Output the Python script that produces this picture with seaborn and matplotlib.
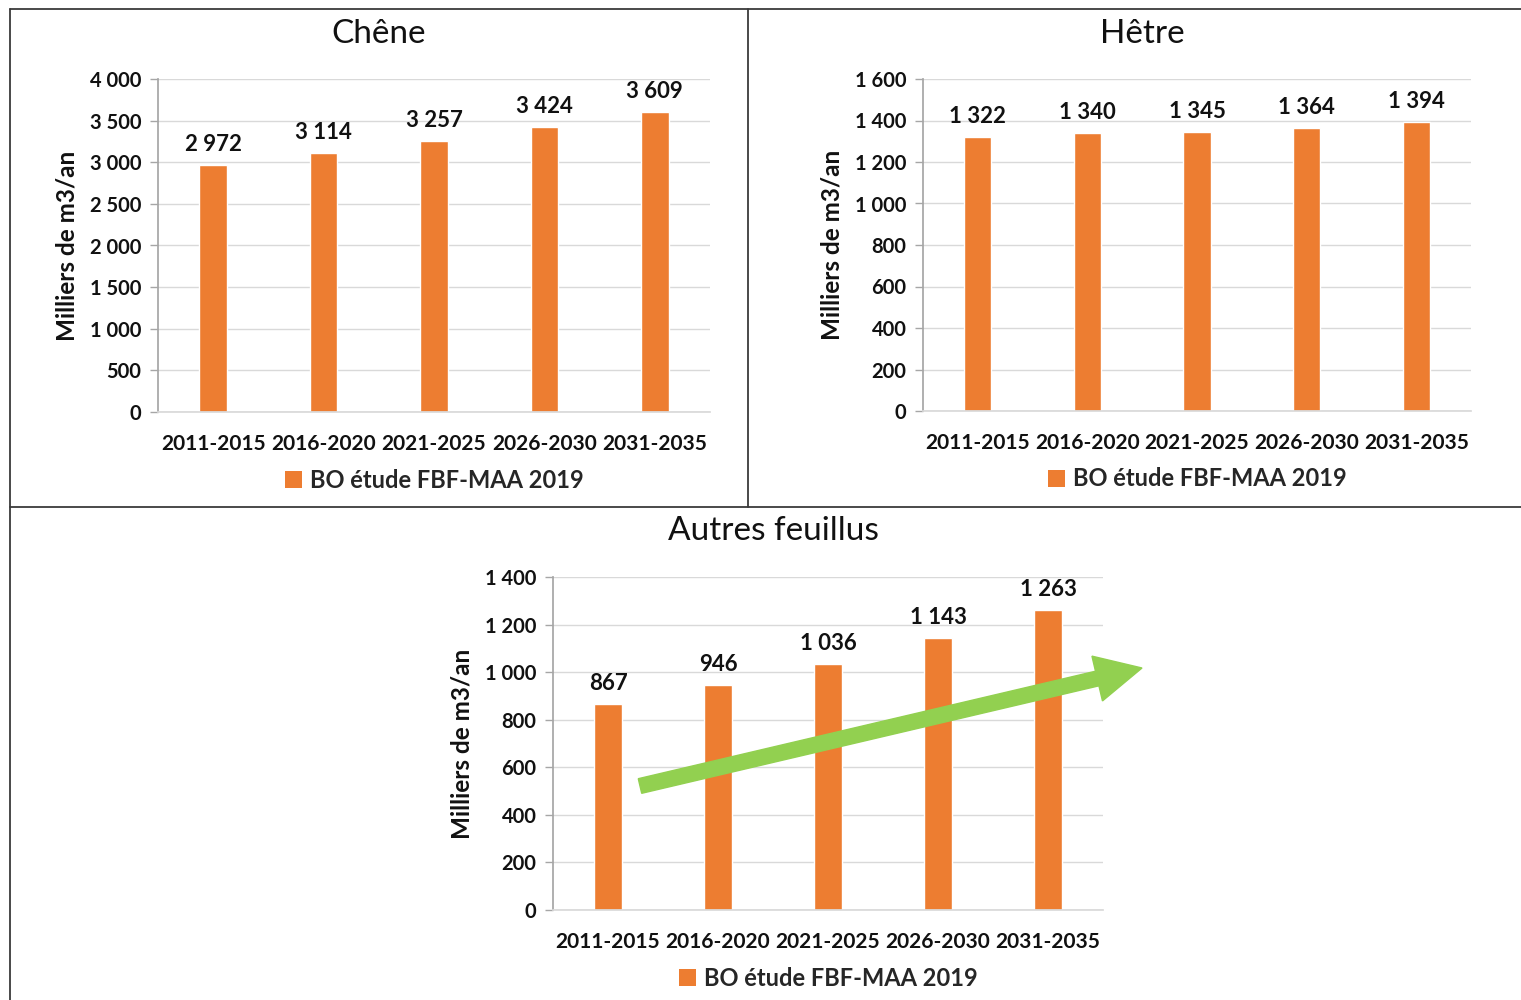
import numpy as np
import pandas as pd
import matplotlib
matplotlib.use("Agg")
import matplotlib.pyplot as plt
import seaborn as sns
from matplotlib.patches import Patch, FancyArrow
from matplotlib.lines import Line2D

# ---- data ----
periods = ["2011-2015", "2016-2020", "2021-2025", "2026-2030", "2031-2035"]
chene = [2972, 3114, 3257, 3424, 3609]
hetre = [1322, 1340, 1345, 1364, 1394]
autres = [867, 946, 1036, 1143, 1263]
titles = ["Chêne", "Hêtre", "Autres feuillus"]
chene_ticks = [0, 500, 1000, 1500, 2000, 2500, 3000, 3500, 4000]
hetre_ticks = [0, 200, 400, 600, 800, 1000, 1200, 1400, 1600]
autres_ticks = [0, 200, 400, 600, 800, 1000, 1200, 1400]
series_name = "BO étude FBF-MAA 2019"
ylabel = "Milliers de m3/an"

sns.set_theme(style="white")
plt.rcParams['font.family'] = ['Lato', 'DejaVu Sans']

ORANGE = "#ED7D31"
GRID = "#D9D9D9"
TXT = "#111111"

fig = plt.figure(figsize=(15.21, 10), dpi=100)
fig.patch.set_facecolor("white")


def fmt(v):
    return f"{v:,}".replace(",", " ")


def draw(rect, values, ticks, title, title_xy):
    ax = fig.add_axes(rect)
    df = pd.DataFrame({"period": periods, "value": values})
    sns.barplot(data=df, x="period", y="value", color=ORANGE, width=0.25,
                saturation=1, ax=ax)
    ax.set_ylim(ticks[0], ticks[-1])
    ax.set_xlim(-0.5, len(periods) - 0.5)
    ax.set_yticks(ticks)
    ax.set_yticklabels([fmt(t) for t in ticks], fontsize=14.5, fontweight="bold", color=TXT)
    ax.set_xticks(range(len(periods)))
    ax.set_xticklabels(periods, fontsize=15, fontweight="bold", color=TXT)
    ax.tick_params(axis="x", length=0, pad=16)
    ax.tick_params(axis="y", length=6, width=1, color="#A6A6A6", pad=6, left=True, direction="out")
    ax.set_xlabel("")
    ax.set_ylabel(ylabel, fontsize=17.5, fontweight="bold", color=TXT, labelpad=8)
    ax.grid(axis="y", color=GRID, linewidth=1)
    ax.set_axisbelow(True)
    for s in ["top", "right"]:
        ax.spines[s].set_visible(False)
    ax.spines["left"].set_color("#A6A6A6")
    ax.spines["bottom"].set_color(GRID)
    ax.bar_label(ax.containers[0], labels=[fmt(v) for v in values], padding=7,
                 fontsize=16, fontweight="bold", color=TXT)
    ax.legend(handles=[Patch(facecolor=ORANGE, edgecolor="none")], labels=[series_name],
              loc="upper center", bbox_to_anchor=(0.5, -0.106), frameon=False,
              handlelength=0.75, handleheight=0.75, handletextpad=0.3,
              prop={"size": 17, "weight": "bold"})
    fig.text(title_xy[0] / 1521, 1 - title_xy[1] / 1000, title, ha="center", va="center",
             fontsize=24, color=TXT)
    return ax


draw([158 / 1521, 1 - 412 / 1000, 552 / 1521, 333 / 1000], chene, chene_ticks, titles[0], (379, 34))
draw([923 / 1521, 1 - 411 / 1000, 548 / 1521, 332 / 1000], hetre, hetre_ticks, titles[1], (1142, 34))
draw([553 / 1521, 1 - 910 / 1000, 550 / 1521, 333 / 1000], autres, autres_ticks, titles[2], (773, 531))

# ---- frame lines ----
LC = "#3a3a3a"
def hline(x0, x1, y):
    fig.add_artist(Line2D([x0 / 1521, x1 / 1521], [1 - y / 1000, 1 - y / 1000],
                          color=LC, lw=1.3, transform=fig.transFigure))
def vline(x, y0, y1):
    fig.add_artist(Line2D([x / 1521, x / 1521], [1 - y0 / 1000, 1 - y1 / 1000],
                          color=LC, lw=1.3, transform=fig.transFigure))

hline(10, 1521, 9)
hline(10, 1521, 507)
vline(10, 9, 1000)
vline(748, 9, 507)

# ---- green trend arrow ----
x0, y0 = 6.40, (1000 - 786) / 100
x1, y1 = 11.42, (1000 - 668) / 100
fig.add_artist(FancyArrow(x0, y0, x1 - x0, y1 - y0, width=0.15, head_width=0.46,
                          head_length=0.46, length_includes_head=True,
                          color="#92D050", transform=fig.dpi_scale_trans, zorder=10))

fig.savefig("out.png", dpi=100, facecolor="white")
